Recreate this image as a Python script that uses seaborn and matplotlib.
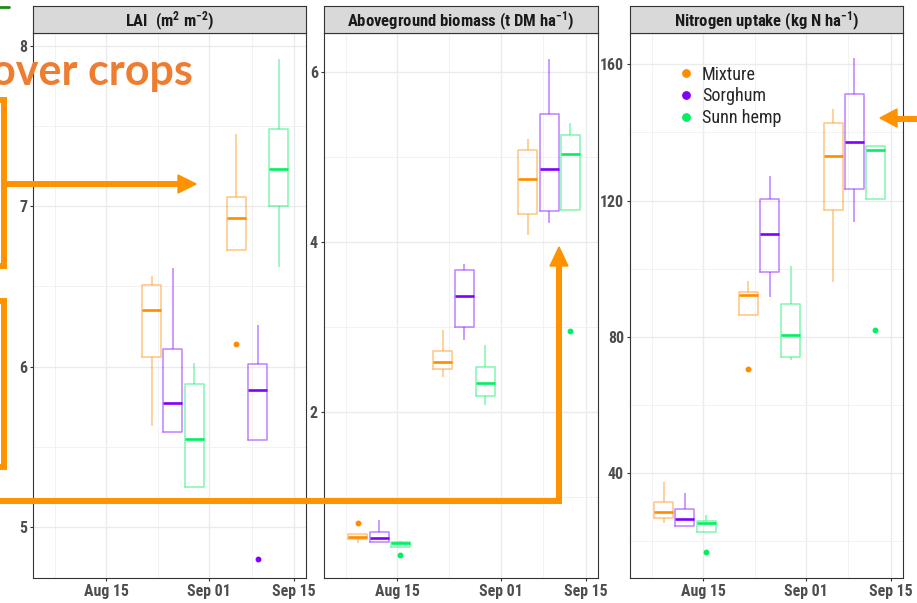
import numpy as np
import pandas as pd
import matplotlib
matplotlib.use("Agg")
import matplotlib.pyplot as plt
import matplotlib.dates as mdates
from matplotlib import font_manager as fm
from matplotlib.font_manager import FontProperties
from matplotlib.textpath import TextPath
from matplotlib.lines import Line2D
from matplotlib.patches import Polygon
from matplotlib.ticker import AutoMinorLocator, FixedLocator
import seaborn as sns

# Sampling dates, crops and colours
dates = ["2021-08-12", "2021-08-26", "2021-09-09"]
crops = ["Mixture", "Sorghum", "Sunn hemp"]
colors = ["#FF8C00", "#7F00FF", "#00F060"]

# Plot observations per crop and date (LAI not measured on the first date)
lai_mix = [[], [5.63, 6.06, 6.35, 6.51, 6.565], [6.14, 6.73, 6.93, 7.06, 7.45]]
lai_sor = [[], [5.59, 5.59, 5.77, 6.11, 6.615], [4.80, 5.54, 5.855, 6.015, 6.26]]
lai_sun = [[], [5.245, 5.245, 5.55, 5.89, 6.02], [6.62, 7.00, 7.23, 7.48, 7.92]]

bio_mix = [[0.464, 0.51, 0.535, 0.573, 0.696], [2.42, 2.51, 2.596, 2.725, 2.973], [4.09, 4.335, 4.74, 5.085, 5.22]]
bio_sor = [[0.476, 0.476, 0.515, 0.594, 0.73], [2.85, 3.0, 3.365, 3.68, 3.75], [4.225, 4.365, 4.865, 5.505, 6.16]]
bio_sun = [[0.32, 0.417, 0.456, 0.473, 0.48], [2.085, 2.19, 2.345, 2.537, 2.796], [2.953, 4.385, 5.04, 5.26, 5.40]]

nup_mix = [[25.2, 26.75, 28.6, 31.5, 37.4], [70.5, 86.45, 92.2, 93.2, 96.3], [96.0, 117.3, 133.2, 142.9, 146.9]]
nup_sor = [[24.4, 24.4, 26.5, 29.5, 34.2], [91.6, 99.1, 110.2, 120.5, 127.1], [113.7, 123.4, 137.2, 151.2, 161.8]]
nup_sun = [[16.7, 22.65, 25.2, 25.8, 27.6], [73.3, 74.1, 80.4, 89.55, 100.7], [81.9, 120.4, 134.7, 136.0, 136.1]]

titles = [r"LAI  (m$^{2}$ m$^{-2}$)",
          r"Aboveground biomass (t DM ha$^{-1}$)",
          r"Nitrogen uptake (kg N ha$^{-1}$)"]
x_breaks = ["2021-08-15", "2021-09-01", "2021-09-15"]

# long table
rows = []
for k, series in enumerate([[lai_mix, lai_sor, lai_sun],
                            [bio_mix, bio_sor, bio_sun],
                            [nup_mix, nup_sor, nup_sun]]):
    for crop, obs in zip(crops, series):
        for d, vals in zip(dates, obs):
            for v in vals:
                rows.append((k, crop, d, v))
df = pd.DataFrame(rows, columns=["panel", "crop", "date", "value"])
df["day"] = mdates.date2num(pd.to_datetime(df["date"]))


# the slide image is squeezed sideways: look for a narrow sans font
def find_narrow(bold):
    prefs = ["liberation", "arial", "roboto", "open", "noto", "dejavu"]
    best = None
    for f in fm.fontManager.ttflist:
        n = f.name.lower()
        tag = f.fname.lower() + " " + n + " " + str(f.stretch).lower()
        if not ("narrow" in tag or "condensed" in tag):
            continue
        if any(s in tag for s in ["mono", "serif", "italic", "oblique", "extra", "ultra",
                                  "semi", "cjk", "light", "thin", "black", "medium"]):
            continue
        w = f.weight if isinstance(f.weight, (int, float)) else fm.weight_dict.get(f.weight, 400)
        if (w >= 600) != bold:
            continue
        rank = (next((i for i, p in enumerate(prefs) if p in n), len(prefs)), len(n))
        if best is None or rank < best[0]:
            best = (rank, f)
    return best[1] if best else None


def make_fp(bold):
    f = find_narrow(bold)
    if f is not None:
        return FontProperties(fname=f.fname), f.name
    return FontProperties(family="Liberation Sans", weight="bold" if bold else "normal"), "Liberation Sans"


def fit_size(fp, text, target_px, base_pt):
    p = fp.copy()
    p.set_size(base_pt)
    w = TextPath((0, 0), text, prop=p).get_extents().width * 100 / 72
    return base_pt * min(1.0, target_px / w)


fp_bold, bold_name = make_fp(True)
fp_reg, _ = make_fp(False)
tick_size = fit_size(fp_bold, "Aug 15", 44, 11.5)
strip_size = fit_size(fp_bold, "Aboveground biomass (t DM ha", 211, 12)
leg_size = fit_size(fp_reg, "Sunn hemp", 78, 13.4)

sns.set_style("white")
plt.rcParams["font.family"] = ["Liberation Sans", "DejaVu Sans"]
plt.rcParams["mathtext.fontset"] = "custom"
plt.rcParams["mathtext.rm"] = bold_name + ":bold"
plt.rcParams["mathtext.default"] = "regular"

W, H = 917, 603
fig = plt.figure(figsize=(W / 100, H / 100), dpi=100)

panel_x = [(33.3, 306), (324, 597.7), (630, 902.7)]
top, bottom, strip_top = 33.3, 578, 5.7
ylims = [(4.68, 8.08), (0.05, 6.46), (9.2, 169.1)]
ymajor = [[5, 6, 7, 8], [2, 4, 6], [40, 80, 120, 160]]

xb = mdates.date2num(pd.to_datetime(x_breaks))
xminor = [xb[0] - (xb[1] - xb[0]) / 2, (xb[0] + xb[1]) / 2, (xb[1] + xb[2]) / 2]
xlim = (mdates.date2num(pd.Timestamp("2021-08-02 22:00")),
        mdates.date2num(pd.Timestamp("2021-09-17")))

tick_fp = fp_bold.copy()
tick_fp.set_size(tick_size)
strip_fp = fp_bold.copy()
strip_fp.set_size(strip_size)
leg_fp = fp_reg.copy()
leg_fp.set_size(leg_size)

axes = []
for k, (x0, x1) in enumerate(panel_x):
    ax = fig.add_axes([x0 / W, 1 - bottom / H, (x1 - x0) / W, (bottom - top) / H])
    sub = df[df.panel == k]
    sns.boxplot(data=sub, x="day", y="value", hue="crop", hue_order=crops,
                palette=colors, native_scale=True, fill=False, width=0.75, gap=0.1,
                linewidth=1.1, fliersize=3.2, legend=False, ax=ax,
                boxprops={"alpha": 0.5}, whiskerprops={"alpha": 0.5},
                medianprops={"linewidth": 1.9}, capprops={"visible": False},
                flierprops={"marker": "o"})
    for line in ax.lines:
        if line.get_marker() == "o":
            line.set_markerfacecolor(line.get_markeredgecolor())

    ax.set_xlim(*xlim)
    ax.set_ylim(*ylims[k])
    ax.set_xticks(xb)
    ax.xaxis.set_major_formatter(mdates.DateFormatter("%b %d"))
    ax.xaxis.set_minor_locator(FixedLocator(xminor))
    ax.set_yticks(ymajor[k])
    ax.yaxis.set_minor_locator(AutoMinorLocator(2))
    ax.grid(True, which="major", color="#EBEBEB", lw=1.0)
    ax.grid(True, which="minor", color="#F2F2F2", lw=0.7)
    ax.set_axisbelow(True)
    ax.set_xlabel("")
    ax.set_ylabel("")
    ax.tick_params(which="major", length=2.2, width=0.8, color="#333333", pad=2.2,
                   labelcolor="#4D4D4D", left=True, bottom=True)
    ax.tick_params(which="minor", length=0)
    fig.canvas.draw()
    for lab in ax.get_xticklabels() + ax.get_yticklabels():
        lab.set_fontproperties(tick_fp)
    for s in ax.spines.values():
        s.set_color("#333333")
        s.set_linewidth(0.8)

    # facet strip
    sax = fig.add_axes([x0 / W, 1 - top / H, (x1 - x0) / W, (top - strip_top) / H])
    sax.set_facecolor("#D9D9D9")
    sax.set_xticks([])
    sax.set_yticks([])
    for s in sax.spines.values():
        s.set_color("#333333")
        s.set_linewidth(0.8)
    sax.text(0.5, 0.45, titles[k], ha="center", va="center", fontproperties=strip_fp,
             color="#1A1A1A", transform=sax.transAxes)
    axes.append(ax)

handles = [Line2D([], [], marker="o", ls="none", color=c, markersize=5.3) for c in colors]
axes[2].legend(handles, crops, loc="upper left", bbox_to_anchor=(0.1575, 0.954),
               borderaxespad=0, frameon=False, prop=leg_fp, handlelength=0.6,
               handletextpad=0.6, labelspacing=0.2)

# slide overlay: arrows, boxes and heading drawn on top of the chart
ov = fig.add_axes([0, 0, 1, 1], zorder=10)
ov.set_xlim(0, W)
ov.set_ylim(H, 0)
ov.axis("off")
ov.patch.set_alpha(0)
orange = "#FF9200"
lw = 4.3
ov.plot([-10, 4, 4, -10], [100, 100, 266, 266], color=orange, lw=lw, solid_joinstyle="miter")
ov.plot([-10, 4, 4, -10], [301, 301, 467, 467], color=orange, lw=lw, solid_joinstyle="miter")
ov.plot([4, 180], [183.5, 183.5], color=orange, lw=lw, solid_capstyle="butt")
ov.add_patch(Polygon([[178, 175], [196, 184], [178, 193]], color=orange))
ov.plot([-10, 558.5, 558.5], [500.5, 500.5, 264], color=orange, lw=lw,
        solid_joinstyle="miter", solid_capstyle="butt")
ov.add_patch(Polygon([[550, 266], [559, 247], [568, 266]], color=orange))
ov.plot([895, 930], [118.5, 118.5], color=orange, lw=lw, solid_capstyle="butt")
ov.add_patch(Polygon([[897, 109], [880, 118], [897, 127]], color=orange))
ov.plot([-5, 9], [6.7, 6.7], color="#1A8C1A", lw=2)
ov.text(193, 85, "over crops", ha="right", va="baseline", fontsize=31,
        fontweight="bold", color="#ED7D31", family=["Lato", "DejaVu Sans"])

fig.savefig("out.png", dpi=100)
